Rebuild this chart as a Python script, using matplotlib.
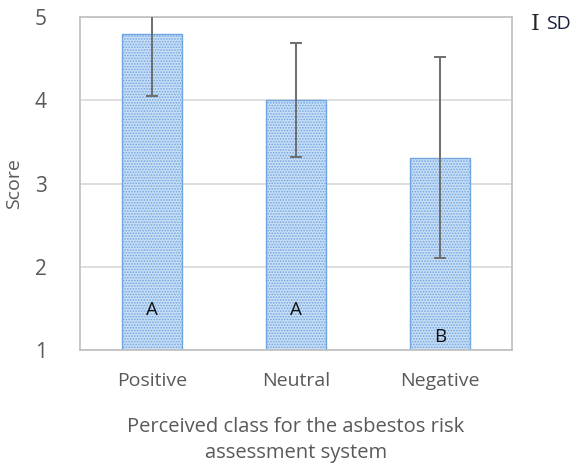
import matplotlib.pyplot as plt

categories = ['Positive', 'Neutral', 'Negative']
means = [4.79, 4.00, 3.31]
sds = [0.74, 0.685, 1.21]
groups = ['A', 'A', 'B']
group_y = [1.48, 1.48, 1.16]

plt.rcParams['font.family'] = ['Open Sans', 'DejaVu Sans']
plt.rcParams['hatch.linewidth'] = 0.8

fig = plt.figure(figsize=(5.78, 4.67), dpi=100)
ax = fig.add_axes([0.1384, 0.2505, 0.7474, 0.7131])

x = range(len(categories))
ax.bar(x, [m - 1 for m in means], bottom=1, width=0.41,
       color='#c9def5', edgecolor='#6fa6e2', hatch='......', linewidth=1.0,
       zorder=2)
ax.errorbar(x, means, yerr=sds, fmt='none', ecolor='#6e6e6e',
            elinewidth=1.4, capsize=4.5, capthick=1.4, zorder=3)

for i, g in enumerate(groups):
    ax.text(i, group_y[i], g, ha='center', va='center', fontsize=13.5,
            color='#111111', zorder=4)

ax.set_xlim(-0.5, 2.5)
ax.set_ylim(1, 5)
ax.set_yticks([1, 2, 3, 4, 5])
ax.set_xticks(list(x))
ax.set_xticklabels(categories)
ax.tick_params(length=0, labelsize=14, labelcolor='#595959', pad=16)
ax.tick_params(axis='y', labelsize=15, pad=24)
ax.yaxis.grid(True, color='#d9d9d9', linewidth=1.2, zorder=0)
ax.set_axisbelow(True)
for s in ax.spines.values():
    s.set_color('#bfbfbf')
    s.set_linewidth(1.2)

ax.set_ylabel('Score', fontsize=14, color='#595959', labelpad=8)
ax.set_xlabel('Perceived class for the asbestos risk\nassessment system',
              fontsize=14.5, color='#595959', labelpad=19, linespacing=1.45)

fig.text(0.918, 0.949, 'I', fontsize=16, color='#262626', family='DejaVu Serif',
         ha='left', va='center')
fig.text(0.945, 0.949, 'SD', fontsize=14, color='#17213d', ha='left', va='center')

fig.savefig('out.png', dpi=100)
